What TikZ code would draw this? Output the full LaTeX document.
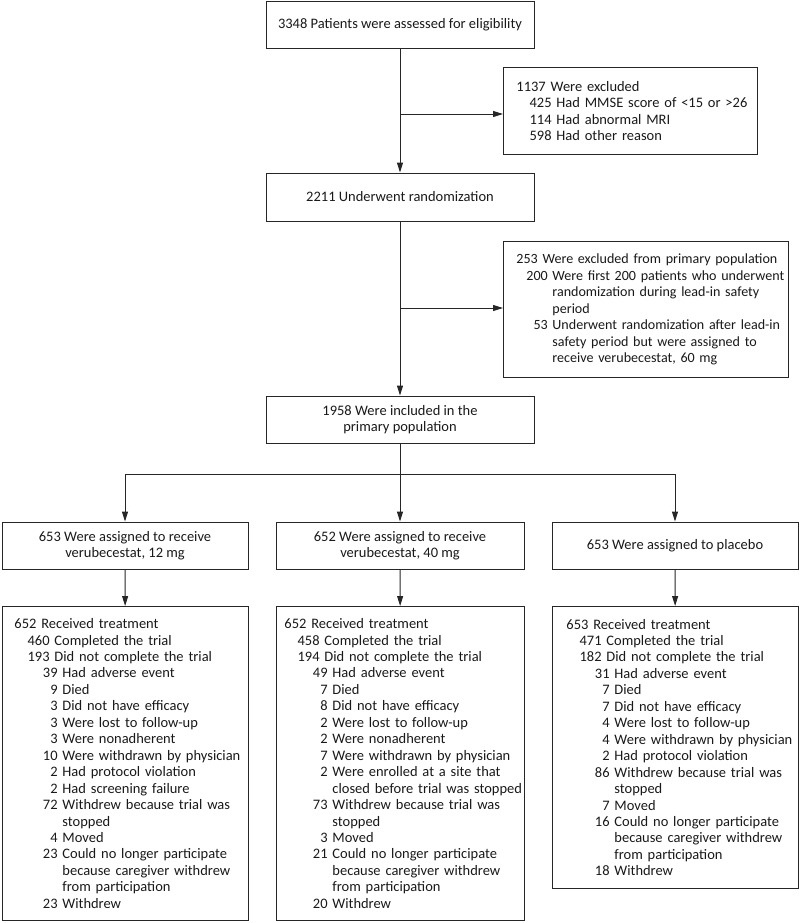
\documentclass[tikz,border=0pt]{standalone}
\usepackage{fontspec}
\setmainfont{Carlito}
\usetikzlibrary{arrows.meta}

\newlength\pxu
\setlength\pxu{0.025cm}
\newcommand{\fsz}{\fontsize{10.3}{11.7}\selectfont}
% numbered line: text column, number, text
\newcommand{\fitem}[3]{\mbox{\makebox[#1\pxu][r]{#2\ }#3}}
% wrapped line under an item
\newcommand{\fcont}[2]{\mbox{\hspace*{#1\pxu}#2}}

\begin{document}
\begin{tikzpicture}[x=0.025cm, y=-0.025cm,
    box/.style={draw=black!85, line width=0.65pt, inner sep=0pt, align=center,
      font=\fsz, text=black!90},
    lbox/.style={draw=black!85, line width=0.65pt, anchor=north west, align=left,
      inner ysep=0pt, font=\fsz, text=black!90},
    arr/.style={-{Triangle[length=7pt,width=4.2pt]}, draw=black!85, line width=0.65pt}]
  \useasboundingbox (0,0) rectangle (800,923);

  % main column
  \node[box, minimum width=268\pxu, minimum height=47\pxu] (ASSESS) at (400, 24.5)
    {3348 Patients were assessed for eligibility};
  \node[box, minimum width=268\pxu, minimum height=48\pxu] (RAND) at (400, 197)
    {2211 Underwent randomization};
  \node[box, minimum width=268\pxu, minimum height=47\pxu] (PRIM) at (400, 419.5)
    {1958 Were included in the\\primary population};

  % exclusions
  \node[lbox, text width=228\pxu, inner xsep=13\pxu, minimum height=87\pxu] (EXCL) at (503, 67)
    {\mbox{1137 Were excluded}\\
     \fitem{40}{425}{Had MMSE score of <15 or >26}\\
     \fitem{40}{114}{Had abnormal MRI}\\
     \fitem{40}{598}{Had other reason}};
  \node[lbox, text width=259\pxu, inner xsep=13\pxu, minimum height=136\pxu,
    font=\fontsize{10}{11.7}\selectfont] (EXPRIM) at (503, 241)
    {\mbox{253 Were excluded from primary population}\\
     \fitem{36}{200}{Were first 200 patients who underwent}\\
     \fcont{36}{randomization during lead-in safety}\\
     \fcont{36}{period}\\
     \fitem{36}{53}{Underwent randomization after lead-in}\\
     \fcont{36}{safety period but were assigned to}\\
     \fcont{36}{receive verubecestat, 60 mg}};

  % groups
  \node[box, minimum width=246\pxu, minimum height=47\pxu] (LOW) at (125, 545.5)
    {653 Were assigned to receive\\verubecestat, 12 mg};
  \node[box, minimum width=248\pxu, minimum height=47\pxu] (MID) at (400, 545.5)
    {652 Were assigned to receive\\verubecestat, 40 mg};
  \node[box, minimum width=246\pxu, minimum height=47\pxu] (PLAC) at (675, 545.5)
    {653 Were assigned to placebo};

  % follow-up
  \node[lbox, text width=222\pxu, inner xsep=12\pxu, minimum height=314\pxu] (LOWTX) at (2, 606)
    {\mbox{652 Received treatment}\\
     \fitem{40}{460}{Completed the trial}\\
     \fitem{40}{193}{Did not complete the trial}\\
     \fitem{48}{39}{Had adverse event}\\
     \fitem{48}{9}{Died}\\
     \fitem{48}{3}{Did not have efficacy}\\
     \fitem{48}{3}{Were lost to follow-up}\\
     \fitem{48}{3}{Were nonadherent}\\
     \fitem{48}{10}{Were withdrawn by physician}\\
     \fitem{48}{2}{Had protocol violation}\\
     \fitem{48}{2}{Had screening failure}\\
     \fitem{48}{72}{Withdrew because trial was}\\
     \fcont{48}{stopped}\\
     \fitem{48}{4}{Moved}\\
     \fitem{48}{23}{Could no longer participate}\\
     \fcont{48}{because caregiver withdrew}\\
     \fcont{48}{from participation}\\
     \fitem{48}{23}{Withdrew}};
  \node[lbox, text width=232\pxu, inner xsep=8\pxu, minimum height=314\pxu] (MIDTX) at (276, 606)
    {\mbox{652 Received treatment}\\
     \fitem{40}{458}{Completed the trial}\\
     \fitem{40}{194}{Did not complete the trial}\\
     \fitem{48}{49}{Had adverse event}\\
     \fitem{48}{7}{Died}\\
     \fitem{48}{8}{Did not have efficacy}\\
     \fitem{48}{2}{Were lost to follow-up}\\
     \fitem{48}{2}{Were nonadherent}\\
     \fitem{48}{7}{Were withdrawn by physician}\\
     \fitem{48}{2}{Were enrolled at a site that}\\
     \fcont{48}{closed before trial was stopped}\\
     \fitem{48}{73}{Withdrew because trial was}\\
     \fcont{48}{stopped}\\
     \fitem{48}{3}{Moved}\\
     \fitem{48}{21}{Could no longer participate}\\
     \fcont{48}{because caregiver withdrew}\\
     \fcont{48}{from participation}\\
     \fitem{48}{20}{Withdrew}};
  \node[lbox, text width=218\pxu, inner xsep=14\pxu, minimum height=282\pxu] (PLACTX) at (552, 606)
    {\mbox{653 Received treatment}\\
     \fitem{40}{471}{Completed the trial}\\
     \fitem{40}{182}{Did not complete the trial}\\
     \fitem{48}{31}{Had adverse event}\\
     \fitem{48}{7}{Died}\\
     \fitem{48}{7}{Did not have efficacy}\\
     \fitem{48}{4}{Were lost to follow-up}\\
     \fitem{48}{4}{Were withdrawn by physician}\\
     \fitem{48}{2}{Had protocol violation}\\
     \fitem{48}{86}{Withdrew because trial was}\\
     \fcont{48}{stopped}\\
     \fitem{48}{7}{Moved}\\
     \fitem{48}{16}{Could no longer participate}\\
     \fcont{48}{because caregiver withdrew}\\
     \fcont{48}{from participation}\\
     \fitem{48}{18}{Withdrew}};

  \coordinate (J1) at (400, 114);
  \coordinate (J2) at (400, 308);
  \coordinate (J3) at (400, 474);

  \draw[arr] (ASSESS) -- (RAND);
  \draw[arr] (J1) -- (J1 -| EXCL.west);
  \draw[arr] (RAND) -- (PRIM);
  \draw[arr] (J2) -- (J2 -| EXPRIM.west);

  \draw[draw=black!85, line width=0.65pt] (PRIM) -- (J3);
  \draw[draw=black!85, line width=0.65pt] (J3 -| LOW) -- (J3 -| PLAC);
  \draw[arr] (J3 -| LOW) -- (LOW);
  \draw[arr] (J3) -- (MID);
  \draw[arr] (J3 -| PLAC) -- (PLAC);

  \draw[arr] (LOW) -- (LOWTX);
  \draw[arr] (MID) -- (MIDTX);
  \draw[arr] (PLAC) -- (PLACTX);
\end{tikzpicture}
\end{document}
